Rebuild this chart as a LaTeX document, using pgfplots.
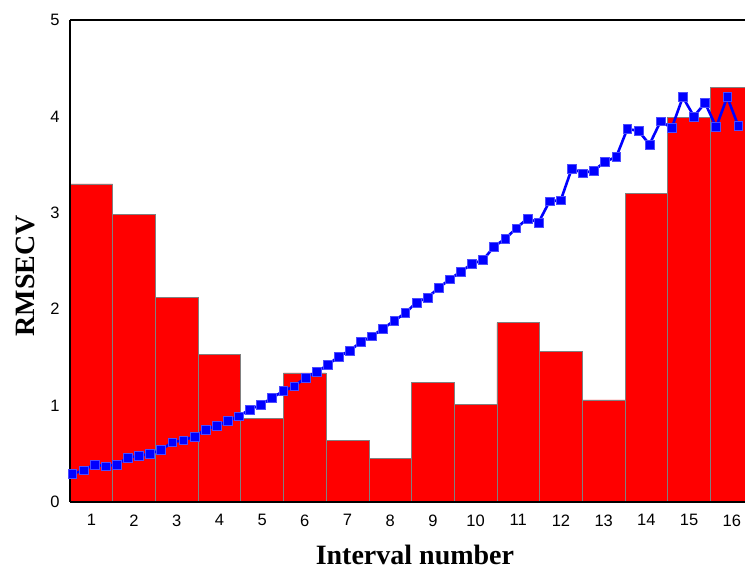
\documentclass[border=0pt]{standalone}
\usepackage{fontspec}
\setmainfont{Liberation Serif}
\newfontfamily\arialfont{Liberation Sans}
\usepackage{pgfplots}
\pgfplotsset{compat=1.18}

\begin{document}
\begin{tikzpicture}
\begin{axis}[
  scale only axis, width=675pt, height=482pt,
  xmin=0.5, xmax=16.31, ymin=0, ymax=5,
  axis x line*=bottom, axis y line*=left,
  axis line style={-, line width=2.5pt, black},
  axis on top,
  xtick={1,...,16}, ytick={0,...,5},
  major tick length=0pt,
  /pgf/number format/assume math mode=true,
  tick label style={font=\arialfont\fontsize{16.5}{18}\selectfont},
  xticklabel style={yshift=-9pt},
  yticklabel style={xshift=-7pt},
  xlabel={Interval number}, ylabel={RMSECV},
  label style={font=\bfseries\fontsize{28}{30}\selectfont},
  xlabel style={at={(axis description cs:0.511,-0.1307)}, anchor=base},
  ylabel style={at={(axis description cs:-0.0519,0.469)}, anchor=base, rotate=0},
  extra description/.code={
    \draw[line width=2.5pt, black] (0,1) -- (1,1);
    \coordinate (SW) at (0,0);
    \coordinate (NE) at (1,1);
  },
]
\addplot[ybar, bar width=1, bar shift=0pt, fill=red, draw=gray, line width=0.6pt]
coordinates {
(1,3.30) (2,2.98) (3,2.12) (4,1.53) (5,0.87) (6,1.34) (7,0.64) (8,0.45)
(9,1.24) (10,1.01) (11,1.86) (12,1.56) (13,1.06) (14,3.20) (15,3.99) (16,4.30)
};
\addplot[blue, line width=2.6pt, mark=square*, mark size=4.4pt,
  mark options={fill=blue, draw=blue!70!white, line width=0.5pt}]
coordinates {
(0.554,0.29) (0.814,0.33) (1.074,0.39) (1.334,0.37) (1.594,0.39) (1.854,0.46)
(2.114,0.48) (2.374,0.50) (2.634,0.54) (2.894,0.62) (3.154,0.64) (3.414,0.68)
(3.674,0.75) (3.934,0.79) (4.194,0.84) (4.454,0.89) (4.714,0.96) (4.974,1.01)
(5.234,1.08) (5.494,1.15) (5.754,1.20) (6.014,1.29) (6.274,1.35) (6.534,1.42)
(6.794,1.51) (7.054,1.57) (7.314,1.66) (7.574,1.72) (7.834,1.80) (8.094,1.88)
(8.354,1.96) (8.614,2.07) (8.874,2.12) (9.134,2.22) (9.394,2.31) (9.654,2.39)
(9.914,2.47) (10.174,2.51) (10.434,2.65) (10.694,2.73) (10.954,2.84) (11.214,2.94)
(11.474,2.90) (11.734,3.12) (11.994,3.13) (12.254,3.46) (12.514,3.41) (12.774,3.44)
(13.034,3.53) (13.294,3.58) (13.554,3.87) (13.814,3.85) (14.074,3.71) (14.334,3.95)
(14.594,3.88) (14.854,4.20) (15.114,4.00) (15.374,4.14) (15.634,3.89) (15.894,4.20)
(16.154,3.90)
};
\end{axis}
\pgfresetboundingbox
\path ([shift={(-70pt,-68pt)}]SW) rectangle ([shift={(0pt,20pt)}]NE);
\end{tikzpicture}
\end{document}
